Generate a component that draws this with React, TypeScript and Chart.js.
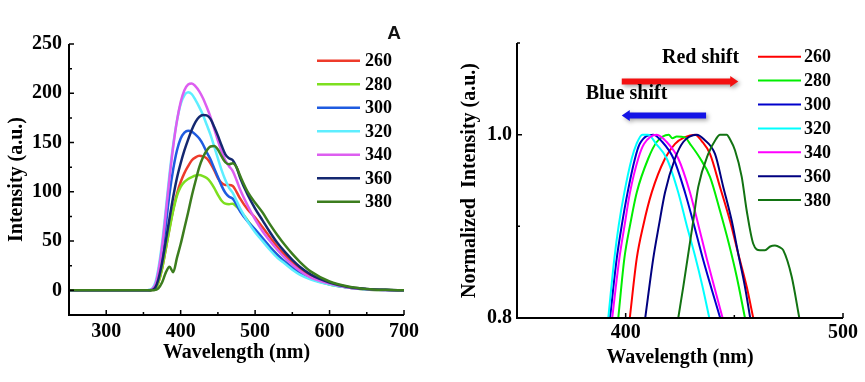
import React, { useEffect, useRef } from "react";
import { Chart, registerables } from "chart.js";
Chart.register(...registerables);

// ---------- shared ----------
const SERIES_LABELS = ["260", "280", "300", "320", "340", "360", "380"];
const LEFT_COLORS = ["#ee3b2b", "#7ddf1f", "#1e5be0", "#5eeeff", "#dd5ef0", "#142870", "#3c7d1e"];
const RIGHT_COLORS = ["#ff0000", "#00ee00", "#0000cc", "#00ffff", "#ff00ff", "#000080", "#127312"];

// ---------- left panel (A) ----------
const WAVELENGTH = [250, 355, 362, 366, 370, 375, 380, 385, 390, 395, 400, 405, 410, 415, 420, 425, 430, 435, 440, 445, 450, 455, 460, 465, 470, 475, 480, 490, 500, 510, 520, 530, 540, 550, 560, 575, 600, 625, 650, 675, 700];
const INT_260 = [0, 0, 0.5, 2, 8, 22, 42, 63, 82, 98, 110, 119, 126, 132, 135, 136.5, 136, 134, 129, 122, 114, 109, 107, 107, 106, 100, 93, 82, 74, 64, 54, 44, 36, 28, 22, 14, 7, 3, 1, 0.3, 0];
const INT_280 = [0, 0, 0.5, 2, 8, 22, 42, 62, 81, 96, 105, 110, 113, 115, 116.5, 117, 116, 114, 110, 104, 97, 91, 88, 87.5, 88, 85, 81, 71, 61, 52, 44, 36, 29, 23, 18, 12, 6, 3, 1, 0.3, 0];
const INT_300 = [0, 0, 1, 4, 15, 37, 66, 98, 123, 142, 154, 160, 162, 161, 158, 154, 148, 140, 133, 124, 115, 106, 99, 95, 93, 87, 80, 70, 62, 53, 44, 36, 29, 23, 18, 12, 6.5, 3, 1.2, 0.4, 0];
const INT_320 = [0, 0, 2, 8, 22, 48, 82, 118, 148, 172, 189, 198, 201, 199, 193, 186, 178, 168, 158, 146, 134, 122, 112, 104, 99, 91, 83, 70, 59, 50, 41, 33, 27, 21, 16, 11, 6, 3, 1, 0.3, 0];
const INT_340 = [0, 0, 1.5, 6, 19, 44, 78, 114, 146, 172, 191, 203, 209, 210, 207, 202, 195, 186, 176, 164, 152, 141, 132, 126, 121, 112, 102, 86, 72, 60, 50, 41, 33, 26, 20, 13, 7, 3, 1.2, 0.4, 0];
const INT_360 = [0, 0, 0.5, 3, 11, 28, 50, 73, 95, 114, 129, 142, 153, 163, 171, 176, 178, 177.5, 174, 166, 157, 147, 138, 134, 132, 125, 114, 97, 83, 71, 59, 48, 39, 31, 24, 16, 8, 3.5, 1.5, 0.5, 0];
const INT_380 = [0, 0, 0, 0.5, 2, 8, 18, 24, 18.5, 33, 47, 63, 79, 96, 111, 125, 135, 142, 146, 146.5, 143, 136, 130, 128, 129, 125, 116, 100, 89, 79, 67, 56, 46, 37, 29, 19, 9, 4, 1.5, 0.5, 0];
const LEFT_SERIES = [INT_260, INT_280, INT_300, INT_320, INT_340, INT_360, INT_380];
const LEFT_X_TICKS = [300, 400, 500, 600, 700];
const LEFT_X_MINOR = [250, 350, 450, 550, 650];
const LEFT_Y_TICKS = [0, 50, 100, 150, 200, 250];
const LEFT_Y_MINOR = [-25, 25, 75, 125, 175, 225];

// ---------- right panel (normalized) ----------
const R_260_X = [401.9, 405.1, 408.1, 412.0, 418.1, 422.7, 427.0, 431.9, 435.0, 438.8, 443.4, 448.0, 451.8, 455.7, 458.7];
const R_260_Y = [0.8, 0.865, 0.901, 0.937, 0.974, 0.99, 0.997, 1.0, 0.993, 0.979, 0.943, 0.906, 0.87, 0.834, 0.8];
const R_280_X = [396.6, 399.4, 402.0, 405.1, 410.4, 414.3, 419.8, 421.5, 423.5, 427.3, 429.6, 434.0, 438.8, 443.4, 447.5, 451.1, 454.9];
const R_280_Y = [0.8, 0.865, 0.901, 0.937, 0.974, 0.992, 1.0, 0.996, 0.998, 0.997, 0.99, 0.975, 0.954, 0.917, 0.881, 0.845, 0.8];
const R_300_X = [392.8, 395.9, 398.2, 400.9, 404.3, 406.5, 412.7, 416.5, 422.0, 427.3, 431.5, 435.5, 439.5, 443.5];
const R_300_Y = [0.8, 0.865, 0.901, 0.937, 0.974, 0.99, 1.0, 0.993, 0.974, 0.937, 0.901, 0.865, 0.832, 0.8];
const R_320_X = [392.0, 394.8, 396.8, 399.4, 402.8, 405.0, 407.7, 410.4, 414.0, 418.9, 424.2, 428.1, 431.9, 435.3, 438.5];
const R_320_Y = [0.8, 0.865, 0.901, 0.937, 0.974, 0.99, 1.0, 1.0, 0.99, 0.974, 0.937, 0.901, 0.868, 0.835, 0.8];
const R_340_X = [393.8, 397.1, 399.5, 402.0, 405.8, 408.5, 414.3, 418.5, 424.2, 429.6, 433.5, 437.3, 441.0, 444.6];
const R_340_Y = [0.8, 0.865, 0.901, 0.937, 0.974, 0.99, 1.0, 0.993, 0.974, 0.937, 0.901, 0.865, 0.832, 0.8];
const R_360_X = [409.0, 412.7, 415.3, 418.1, 422.7, 426.5, 432.7, 436.0, 441.1, 444.9, 448.8, 451.8, 454.9, 457.3];
const R_360_Y = [0.8, 0.865, 0.901, 0.937, 0.974, 0.992, 1.0, 0.995, 0.979, 0.943, 0.906, 0.87, 0.834, 0.8];
const R_380_X = [424.2, 426.5, 431.1, 433.4, 438.0, 441.5, 443.4, 446.5, 448.0, 450.3, 453.4, 455.7, 458.7, 461.8, 464.1, 466.5, 468.7, 471.0, 472.5, 476.4, 479.9];
const R_380_Y = [0.8, 0.834, 0.906, 0.943, 0.979, 0.995, 1.0, 1.0, 0.995, 0.983, 0.954, 0.917, 0.881, 0.874, 0.874, 0.878, 0.879, 0.877, 0.874, 0.845, 0.8];
const RIGHT_X = [R_260_X, R_280_X, R_300_X, R_320_X, R_340_X, R_360_X, R_380_X];
const RIGHT_Y = [R_260_Y, R_280_Y, R_300_Y, R_320_Y, R_340_Y, R_360_Y, R_380_Y];
const RIGHT_X_TICKS = [400, 500];
const RIGHT_X_MINOR = [350, 450];
const RIGHT_Y_TICKS = [0.8, 1.0];
const RIGHT_Y_MINOR = [0.9, 1.1];

// annotations (data coordinates)
const RED_SHIFT = { text: "Red shift", textX: 416.7, textY: 1.084, from: 398.2, to: 451.8, y: 1.058, color: "#f41010" };
const BLUE_SHIFT = { text: "Blue shift", textX: 381.6, textY: 1.045, from: 437.0, to: 398.2, y: 1.021, color: "#1414e6" };

const SERIF = "'Liberation Serif', 'Times New Roman', serif";
const tickFont = { family: SERIF, weight: "bold" as const, size: 20 };

function axesPlugin(xMaj: number[], xMin: number[], yMaj: number[], yMin: number[]) {
  return {
    id: "axesTicks",
    afterDatasetsDraw(chart: any) {
      const { ctx, chartArea: a, scales } = chart;
      const x = scales.x, y = scales.y;
      ctx.save();
      ctx.strokeStyle = "#000";
      ctx.lineWidth = 2;
      ctx.beginPath();
      ctx.moveTo(a.left, a.top);
      ctx.lineTo(a.left, a.bottom);
      ctx.lineTo(a.right, a.bottom);
      ctx.stroke();
      ctx.lineWidth = 1.5;
      ctx.beginPath();
      xMaj.forEach((v) => { const p = x.getPixelForValue(v); ctx.moveTo(p, a.bottom); ctx.lineTo(p, a.bottom - 5); });
      xMin.forEach((v) => { const p = x.getPixelForValue(v); ctx.moveTo(p, a.bottom); ctx.lineTo(p, a.bottom - 3); });
      yMaj.forEach((v) => { const p = y.getPixelForValue(v); ctx.moveTo(a.left, p); ctx.lineTo(a.left + 5, p); });
      yMin.forEach((v) => { const p = y.getPixelForValue(v); ctx.moveTo(a.left, p); ctx.lineTo(a.left + 3, p); });
      ctx.stroke();
      ctx.restore();
    },
  };
}

function legendPlugin(colors: string[], lineX0: number, lineX1: number, textX: number, y0: number, dy: number, width: number) {
  return {
    id: "customLegend",
    afterDraw(chart: any) {
      const { ctx } = chart;
      ctx.save();
      ctx.font = `bold 18px ${SERIF}`;
      ctx.textBaseline = "middle";
      ctx.textAlign = "left";
      SERIES_LABELS.forEach((lab, i) => {
        const yy = y0 + i * dy;
        ctx.strokeStyle = colors[i];
        ctx.lineWidth = width;
        ctx.beginPath();
        ctx.moveTo(lineX0, yy);
        ctx.lineTo(lineX1, yy);
        ctx.stroke();
        ctx.fillStyle = "#000";
        ctx.fillText(lab, textX, yy + 1);
      });
      ctx.restore();
    },
  };
}

const panelLabelPlugin = {
  id: "panelLabel",
  afterDraw(chart: any) {
    const { ctx } = chart;
    ctx.save();
    ctx.font = "bold 19px 'Liberation Sans', Arial, sans-serif";
    ctx.fillStyle = "#111";
    ctx.textAlign = "center";
    ctx.textBaseline = "middle";
    ctx.fillText("A", 394, 34);
    ctx.restore();
  },
};

function drawArrow(ctx: any, x0: number, x1: number, y: number, color: string) {
  const dir = x1 > x0 ? 1 : -1;
  const headL = 8, headH = 11, shaft = 6;
  ctx.beginPath();
  ctx.moveTo(x0, y - shaft / 2);
  ctx.lineTo(x1 - dir * headL, y - shaft / 2);
  ctx.lineTo(x1 - dir * headL, y - headH / 2);
  ctx.lineTo(x1, y);
  ctx.lineTo(x1 - dir * headL, y + headH / 2);
  ctx.lineTo(x1 - dir * headL, y + shaft / 2);
  ctx.lineTo(x0, y + shaft / 2);
  ctx.closePath();
  ctx.fillStyle = color;
  ctx.fill();
}

const shiftPlugin = {
  id: "shiftArrows",
  afterDraw(chart: any) {
    const { ctx, scales } = chart;
    const x = scales.x, y = scales.y;
    ctx.save();
    [RED_SHIFT, BLUE_SHIFT].forEach((s) => {
      ctx.save();
      ctx.shadowColor = "rgba(0,0,0,0.35)";
      ctx.shadowBlur = 4;
      ctx.shadowOffsetX = 2;
      ctx.shadowOffsetY = 2;
      drawArrow(ctx, x.getPixelForValue(s.from), x.getPixelForValue(s.to), y.getPixelForValue(s.y), s.color);
      ctx.restore();
      ctx.font = `bold 20px ${SERIF}`;
      ctx.fillStyle = "#000";
      ctx.textAlign = "left";
      ctx.textBaseline = "middle";
      ctx.fillText(s.text, x.getPixelForValue(s.textX), y.getPixelForValue(s.textY));
    });
    ctx.restore();
  },
};

export default function App() {
  const leftRef = useRef<HTMLCanvasElement>(null);
  const rightRef = useRef<HTMLCanvasElement>(null);

  useEffect(() => {
    const left = new Chart(leftRef.current as HTMLCanvasElement, {
      type: "line",
      data: {
        datasets: SERIES_LABELS.map((lab, i) => ({
          label: lab,
          data: WAVELENGTH.map((w, j) => ({ x: w, y: LEFT_SERIES[i][j] })),
          borderColor: LEFT_COLORS[i],
          borderWidth: 2.5,
          pointRadius: 0,
          fill: false,
          cubicInterpolationMode: "monotone" as const,
          order: SERIES_LABELS.length - i,
        })),
      },
      options: {
        responsive: false,
        animation: false,
        layout: { padding: { top: 44, right: 26, left: 0, bottom: 0 } },
        plugins: { legend: { display: false }, tooltip: { enabled: false } },
        scales: {
          x: {
            type: "linear",
            min: 250,
            max: 700,
            grid: { display: false, drawTicks: false },
            border: { display: false },
            afterBuildTicks: (s: any) => { s.ticks = LEFT_X_TICKS.map((v) => ({ value: v })); },
            afterFit: (s: any) => { s.height = 67; },
            ticks: { font: tickFont, color: "#000", padding: 5, maxRotation: 0, autoSkip: false },
            title: { display: true, text: "Wavelength (nm)", font: tickFont, color: "#000", padding: { top: 0, bottom: 17 } },
          },
          y: {
            type: "linear",
            min: -25,
            max: 250,
            grid: { display: false, drawTicks: false },
            border: { display: false },
            afterBuildTicks: (s: any) => { s.ticks = LEFT_Y_TICKS.map((v) => ({ value: v })); },
            afterFit: (s: any) => { s.width = 69; },
            ticks: { font: tickFont, color: "#000", padding: 7 },
            title: { display: true, text: "Intensity (a.u.)", font: tickFont, color: "#000", padding: { top: 5, bottom: 0 } },
          },
        },
      },
      plugins: [
        axesPlugin(LEFT_X_TICKS, LEFT_X_MINOR, LEFT_Y_TICKS, LEFT_Y_MINOR),
        legendPlugin(LEFT_COLORS, 317, 360, 365, 60.7, 23.5, 2.5),
        panelLabelPlugin,
      ],
    } as any);

    const right = new Chart(rightRef.current as HTMLCanvasElement, {
      type: "line",
      data: {
        datasets: SERIES_LABELS.map((lab, i) => ({
          label: lab,
          data: RIGHT_X[i].map((w, j) => ({ x: w, y: RIGHT_Y[i][j] })),
          borderColor: RIGHT_COLORS[i],
          borderWidth: 2,
          pointRadius: 0,
          fill: false,
          cubicInterpolationMode: "monotone" as const,
          order: SERIES_LABELS.length - i,
        })),
      },
      options: {
        responsive: false,
        animation: false,
        layout: { padding: { top: 43, right: 22, left: 0, bottom: 0 } },
        plugins: { legend: { display: false }, tooltip: { enabled: false } },
        scales: {
          x: {
            type: "linear",
            min: 350,
            max: 500,
            grid: { display: false, drawTicks: false },
            border: { display: false },
            afterBuildTicks: (s: any) => { s.ticks = RIGHT_X_TICKS.map((v) => ({ value: v })); },
            afterFit: (s: any) => { s.height = 64; },
            ticks: { font: tickFont, color: "#000", padding: 3, maxRotation: 0, autoSkip: false },
            title: { display: true, text: "Wavelength (nm)", font: tickFont, color: "#000", padding: { top: 0, bottom: 12 } },
          },
          y: {
            type: "linear",
            min: 0.8,
            max: 1.1,
            grid: { display: false, drawTicks: false },
            border: { display: false },
            afterBuildTicks: (s: any) => { s.ticks = RIGHT_Y_TICKS.map((v) => ({ value: v })); },
            afterFit: (s: any) => { s.width = 87; },
            ticks: { font: tickFont, color: "#000", padding: 5, callback: (v: any) => Number(v).toFixed(1) },
            title: { display: true, text: "Normalized  Intensity (a.u.)", font: tickFont, color: "#000", padding: { top: 28, bottom: 0 } },
          },
        },
      },
      plugins: [
        axesPlugin(RIGHT_X_TICKS, RIGHT_X_MINOR, RIGHT_Y_TICKS, RIGHT_Y_MINOR),
        legendPlugin(RIGHT_COLORS, 328, 371, 374, 56.7, 23.9, 2),
        shiftPlugin,
      ],
    } as any);

    return () => {
      left.destroy();
      right.destroy();
    };
  }, []);

  return (
    <div style={{ position: "fixed", left: 0, top: 0, width: 865, height: 382, background: "#fff" }}>
      <div style={{ position: "absolute", left: 0, top: 0, width: 430, height: 382 }}>
        <canvas ref={leftRef} width={430} height={382} />
      </div>
      <div style={{ position: "absolute", left: 430, top: 0, width: 435, height: 382 }}>
        <canvas ref={rightRef} width={435} height={382} />
      </div>
    </div>
  );
}
